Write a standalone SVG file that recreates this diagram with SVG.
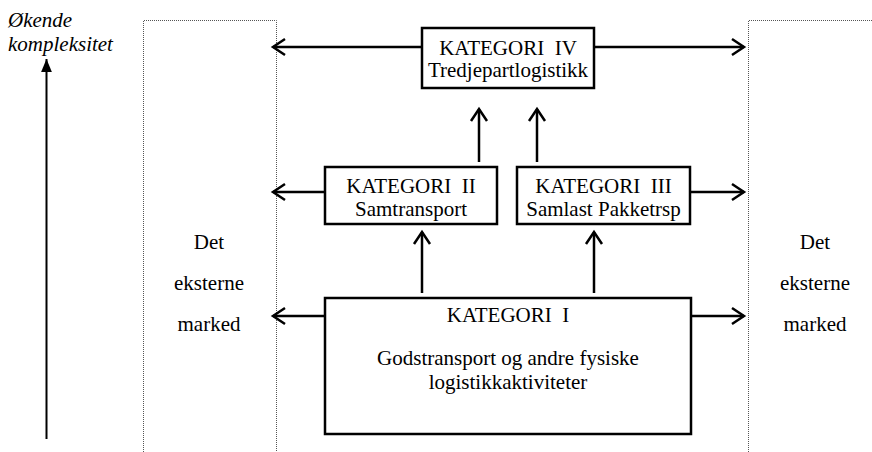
<svg xmlns="http://www.w3.org/2000/svg" width="872" height="452" viewBox="0 0 872 452">
  <style>
    .box { fill: #ffffff; stroke: #000000; stroke-width: 2.5; }
    .lbl { font-size: 21px; fill: #000000; text-anchor: middle; }
    .axis { font-size: 21px; font-style: italic; fill: #000000; }
    .conn { fill: none; stroke: #000000; stroke-width: 2.5; marker-end: url(#chev); }
    .zone { fill: none; stroke: #555555; stroke-width: 1; stroke-dasharray: 1 1; }
  </style>
  <defs>
    <!-- open chevron head for the flow arrows -->
    <marker id="chev" markerUnits="userSpaceOnUse" markerWidth="20" markerHeight="20" viewBox="-14 -10 16 20" refX="0" refY="0" orient="auto">
      <path d="M-12,-8 L0,0 L-12,8" fill="none" stroke="#000000" stroke-width="2.5"/>
    </marker>
    <!-- solid head for the complexity axis -->
    <marker id="tri" markerUnits="userSpaceOnUse" markerWidth="14" markerHeight="14" viewBox="-12 -6 13 12" refX="0" refY="0" orient="auto">
      <path d="M-12,-5 L0,0 L-12,5 Z" fill="#000000"/>
    </marker>
  </defs>

  <g font-family="Liberation Serif, Times New Roman, serif">
    <!-- complexity axis -->
    <g id="axis">
      <text class="axis" x="8" y="27">Økende</text>
      <text class="axis" x="8" y="51">kompleksitet</text>
      <line x1="46.5" y1="439" x2="46.5" y2="59" stroke="#000000" stroke-width="2" marker-end="url(#tri)"/>
    </g>

    <!-- external market zones -->
    <g id="market-left">
      <path class="zone" d="M143.5,452 V20.5 H276.5 V452"/>
      <text class="lbl" x="209" y="249">Det</text>
      <text class="lbl" x="209" y="290">eksterne</text>
      <text class="lbl" x="209" y="331">marked</text>
    </g>
    <g id="market-right">
      <path class="zone" d="M748.5,452 V20.5 H872"/>
      <text class="lbl" x="815" y="249">Det</text>
      <text class="lbl" x="815" y="290">eksterne</text>
      <text class="lbl" x="815" y="331">marked</text>
    </g>

    <!-- connectors -->
    <g id="connectors">
      <line class="conn" x1="422" y1="47" x2="273" y2="47"/>
      <line class="conn" x1="594" y1="47" x2="744" y2="47"/>
      <line class="conn" x1="325" y1="192" x2="273" y2="192"/>
      <line class="conn" x1="690" y1="192" x2="744" y2="192"/>
      <line class="conn" x1="325" y1="316" x2="273" y2="316"/>
      <line class="conn" x1="691" y1="316" x2="744" y2="316"/>
      <line class="conn" x1="479" y1="162" x2="479" y2="109"/>
      <line class="conn" x1="537" y1="162" x2="537" y2="109"/>
      <line class="conn" x1="422" y1="293" x2="422" y2="232"/>
      <line class="conn" x1="594" y1="293" x2="594" y2="232"/>
    </g>

    <!-- categories -->
    <g id="kategori-iv">
      <rect class="box" x="422" y="28" width="172" height="60"/>
      <text class="lbl" x="508" y="55" xml:space="preserve">KATEGORI  IV</text>
      <text class="lbl" x="508" y="77">Tredjepartlogistikk</text>
    </g>
    <g id="kategori-ii">
      <rect class="box" x="325" y="167" width="172" height="57"/>
      <text class="lbl" x="411" y="193" xml:space="preserve">KATEGORI  II</text>
      <text class="lbl" x="411" y="216">Samtransport</text>
    </g>
    <g id="kategori-iii">
      <rect class="box" x="517" y="167" width="173" height="57"/>
      <text class="lbl" x="603.5" y="193" xml:space="preserve">KATEGORI  III</text>
      <text class="lbl" x="603.5" y="216">Samlast Pakketrsp</text>
    </g>
    <g id="kategori-i">
      <rect class="box" x="325" y="298" width="366" height="136"/>
      <text class="lbl" x="508" y="322" xml:space="preserve">KATEGORI  I</text>
      <text class="lbl" x="508" y="365">Godstransport og andre fysiske</text>
      <text class="lbl" x="508" y="389">logistikkaktiviteter</text>
    </g>
  </g>
</svg>
